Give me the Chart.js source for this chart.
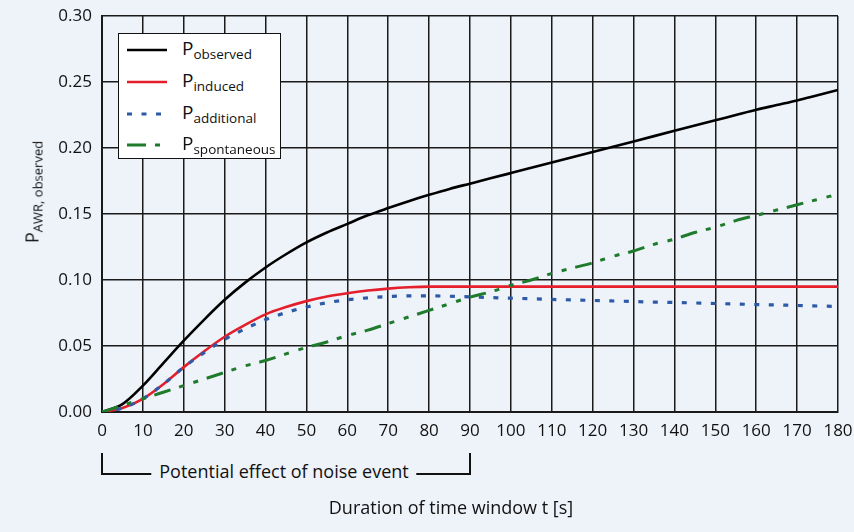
<!DOCTYPE html>
<html>
<head>
<meta charset="utf-8">
<script src="https://cdn.jsdelivr.net/npm/chart.js@4"></script>
<style>
  html, body { margin: 0; padding: 0; background: #eef2f9; }
  #wrap { position: relative; width: 854px; height: 532px; font-family: "Open Sans", sans-serif; color: #111; }
  canvas { position: absolute; left: 0; top: 0; }
  #legend { position: absolute; left: 118px; top: 33px; width: 161px; height: 124px; background: #fff; border: 1.5px solid #111; }
  .row { position: absolute; left: 0; height: 30px; width: 160px; }
  .row svg { position: absolute; left: 8px; top: 0; }
  .row .lbl { position: absolute; left: 63px; top: 0px; font-size: 19px; line-height: 24px; white-space: nowrap; }
  .lbl sub { font-size: 13.5px; vertical-align: -4px; }
  #ytitle { position: absolute; font-size: 18px; white-space: nowrap; transform: translate(-50%, -50%) rotate(-90deg); }
  #ytitle sub { font-size: 13px; vertical-align: -4px; }
  #xtitle { position: absolute; font-size: 18px; white-space: nowrap; transform: translateX(-50%); }
  #brText { position: absolute; font-size: 18px; white-space: nowrap; transform: translateX(-50%); background: #eef2f9; padding: 0 8px; }
  .brl { position: absolute; background: #111; }
</style>
</head>
<body>
<div id="wrap">
  <canvas id="chart" width="854" height="532"></canvas>
  <div id="legend">
    <div class="row" style="top:2px"><svg width="44" height="30"><line x1="0" y1="14" x2="40" y2="14" stroke="#000" stroke-width="2.5"/></svg><span class="lbl">P<sub>observed</sub></span></div>
    <div class="row" style="top:34px"><svg width="44" height="30"><line x1="0" y1="14" x2="40" y2="14" stroke="#e41f2b" stroke-width="2.5"/></svg><span class="lbl">P<sub>induced</sub></span></div>
    <div class="row" style="top:66px"><svg width="44" height="30"><line x1="0" y1="14" x2="40" y2="14" stroke="#2d5aa6" stroke-width="3" stroke-dasharray="5 9.5"/></svg><span class="lbl">P<sub>additional</sub></span></div>
    <div class="row" style="top:97px"><svg width="44" height="30"><line x1="0" y1="14" x2="40" y2="14" stroke="#1e7b2c" stroke-width="3" stroke-dasharray="19 9 5 30"/></svg><span class="lbl">P<sub>spontaneous</sub></span></div>
  </div>
  <div id="ytitle">P<sub>AWR, observed</sub></div>
  <div id="xtitle">Duration of time window t [s]</div>
  <div class="brl" id="brL"></div>
  <div class="brl" id="brR"></div>
  <div class="brl" id="brH"></div>
  <div id="brText">Potential effect of noise event</div>
</div>
<script>
var times = [0, 5, 10, 15, 20, 25, 30, 35, 40, 45, 50, 55, 60, 65, 70, 75, 80, 85, 90,
  95, 100, 105, 110, 115, 120, 125, 130, 135, 140, 145, 150, 155, 160, 165, 170, 175, 180];
var observed = [0, 0.006, 0.020, 0.037, 0.054, 0.070, 0.085, 0.098, 0.1095, 0.1195, 0.1285, 0.136, 0.1425, 0.149, 0.1545, 0.1597, 0.1645, 0.169, 0.173,
  0.177, 0.181, 0.185, 0.189, 0.193, 0.197, 0.201, 0.205, 0.209, 0.213, 0.217, 0.221, 0.225, 0.229, 0.2325, 0.236, 0.240, 0.244];
var induced = [0, 0.003, 0.010, 0.021, 0.034, 0.046, 0.057, 0.066, 0.074, 0.0795, 0.084, 0.0875, 0.090, 0.092, 0.0935, 0.0945, 0.095, 0.095, 0.095,
  0.095, 0.095, 0.095, 0.095, 0.095, 0.095, 0.095, 0.095, 0.095, 0.095, 0.095, 0.095, 0.095, 0.095, 0.095, 0.095, 0.095, 0.095];
var additional = [0, 0.003, 0.010, 0.021, 0.034, 0.045, 0.055, 0.063, 0.070, 0.0753, 0.0795, 0.0828, 0.085, 0.0865, 0.0875, 0.088, 0.088, 0.0877, 0.0872,
  0.0867, 0.0862, 0.0858, 0.0853, 0.0849, 0.0845, 0.0841, 0.0837, 0.0833, 0.083, 0.0826, 0.0822, 0.0818, 0.0814, 0.0811, 0.0807, 0.0803, 0.080];
var spontaneous = [0, 0.005, 0.010, 0.015, 0.020, 0.025, 0.030, 0.035, 0.039, 0.044, 0.049, 0.053, 0.058, 0.062, 0.067, 0.072, 0.077, 0.082, 0.087,
  0.091, 0.096, 0.100, 0.105, 0.109, 0.113, 0.118, 0.122, 0.127, 0.131, 0.136, 0.140, 0.145, 0.149, 0.153, 0.157, 0.161, 0.165];
var effectRange = [0, 90];

function pts(vals) {
  return times.map(function (t, i) { return { x: t, y: vals[i] }; });
}

var bgPlugin = {
  id: 'bg',
  beforeDraw: function (chart) {
    var c = chart.ctx;
    c.save();
    c.fillStyle = '#eef2f9';
    c.fillRect(0, 0, chart.width, chart.height);
    c.restore();
  }
};

var chart = new Chart(document.getElementById('chart'), {
  type: 'line',
  data: {
    datasets: [
      { label: 'Pspontaneous', data: pts(spontaneous), borderColor: '#1e7b2c', borderWidth: 3, borderDash: [17, 9, 5, 10, 5, 9] },
      { label: 'Padditional', data: pts(additional), borderColor: '#2d5aa6', borderWidth: 3.2, borderDash: [5, 9.5] },
      { label: 'Pinduced', data: pts(induced), borderColor: '#e41f2b', borderWidth: 2.6 },
      { label: 'Pobserved', data: pts(observed), borderColor: '#000', borderWidth: 2.6 }
    ]
  },
  options: {
    responsive: false,
    animation: false,
    events: [],
    layout: { padding: { left: 0, right: 16, top: 16, bottom: 0 } },
    elements: { point: { radius: 0 }, line: { cubicInterpolationMode: 'monotone', fill: false } },
    plugins: { legend: { display: false }, tooltip: { enabled: false } },
    scales: {
      x: {
        type: 'linear', min: 0, max: 180,
        afterFit: function (s) { s.height = 120; s.paddingRight = 0; },
        grid: { color: '#1a1a1a', lineWidth: 1.5, drawTicks: false },
        border: { color: '#1a1a1a', width: 2 },
        ticks: { stepSize: 10, padding: 9, color: '#111', font: { family: 'Open Sans', size: 17 }, maxRotation: 0, autoSkip: false }
      },
      y: {
        min: 0, max: 0.30,
        afterFit: function (s) { s.width = 102; s.paddingTop = 0; },
        grid: { color: '#1a1a1a', lineWidth: 1.5, drawTicks: false },
        border: { color: '#1a1a1a', width: 2 },
        ticks: { stepSize: 0.05, padding: 10, color: '#111', font: { family: 'Open Sans', size: 17 },
          callback: function (v) { return v.toFixed(2); } }
      }
    }
  },
  plugins: [bgPlugin]
});

// place axis titles and bracket from the scales
var xs = chart.scales.x;
var yt = document.getElementById('ytitle');
yt.style.left = '33px';
yt.style.top = '192px';
var xt = document.getElementById('xtitle');
xt.style.left = '451px';
xt.style.top = '495px';

var x0 = Math.round(xs.getPixelForValue(effectRange[0]));
var x1 = Math.round(xs.getPixelForValue(effectRange[1]));
var topY = 453, botY = 473;
function box(id, l, t, w, h) {
  var e = document.getElementById(id);
  e.style.left = l + 'px'; e.style.top = t + 'px'; e.style.width = w + 'px'; e.style.height = h + 'px';
}
box('brL', x0 - 1, topY, 1.5, botY - topY + 1);
box('brR', x1 - 1, topY, 1.5, botY - topY + 1);
box('brH', x0 - 1, botY, x1 - x0 + 1.5, 1.5);
var bt = document.getElementById('brText');
bt.style.left = ((x0 + x1) / 2 - 2) + 'px';
bt.style.top = (botY - 14) + 'px';
</script>
</body>
</html>
